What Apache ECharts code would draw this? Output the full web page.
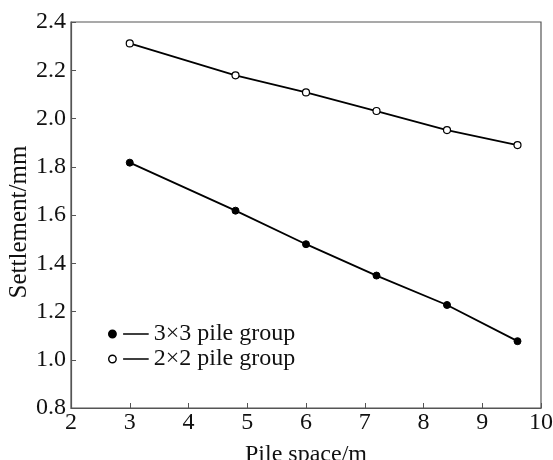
<!DOCTYPE html>
<html>
<head>
<meta charset="utf-8">
<script src="https://cdn.jsdelivr.net/npm/echarts@6/dist/echarts.min.js"></script>
<style>html,body{margin:0;padding:0;background:#fff;}#c{width:553px;height:460px;}</style>
</head>
<body>
<div id="c"></div>
<script>
const pileSpace = [3, 4.8, 6, 7.2, 8.4, 9.6];
const group3x3 = [1.817, 1.618, 1.479, 1.349, 1.227, 1.077];
const group2x2 = [2.311, 2.179, 2.108, 2.031, 1.952, 1.890];
const seriesNames = ['3\u00d73 pile group', '2\u00d72 pile group'];
const xTicks = [2, 3, 4, 5, 6, 7, 8, 9, 10];
const yTicks = [0.8, 1.0, 1.2, 1.4, 1.6, 1.8, 2.0, 2.2, 2.4];

const font = '"Liberation Serif", "Times New Roman", serif';
const chart = echarts.init(document.getElementById('c'));
const legendIcon = 'path://M0.5,4A3.5,3.5,0,1,1,7.5,4A3.5,3.5,0,1,1,0.5,4Z M14,4L38,4';
chart.setOption({
  animation: false,
  backgroundColor: '#fff',
  grid: { left: 71, right: 12, top: 22, bottom: 52, containLabel: false, outerBoundsMode: 'none',
          show: true, borderColor: '#555', borderWidth: 1.2, backgroundColor: 'transparent' },
  legend: {
    left: 103, top: 317, orient: 'vertical', itemGap: 1,
    itemWidth: 40, itemHeight: 8,
    textStyle: { fontFamily: font, fontSize: 24, color: '#111', padding: [0,0,0,0] },
    data: [
      { name: seriesNames[0], icon: legendIcon, itemStyle: { color: '#000', borderColor: '#000', borderWidth: 1.4 } },
      { name: seriesNames[1], icon: legendIcon, itemStyle: { color: '#fff', borderColor: '#000', borderWidth: 1.4 } }
    ]
  },
  xAxis: {
    type: 'value', min: xTicks[0], max: xTicks[xTicks.length-1], interval: 1,
    name: 'Pile space/m', nameLocation: 'middle', nameGap: 35, nameMoveOverlap: false,
    nameTextStyle: { fontFamily: font, fontSize: 24, color: '#111' },
    axisLine: { lineStyle: { color: '#555', width: 1.2 } },
    axisTick: { inside: true, length: 5, lineStyle: { color: '#555' } },
    axisLabel: { fontFamily: font, fontSize: 24, color: '#111', margin: 3 },
    splitLine: { show: false }
  },
  yAxis: {
    type: 'value', min: yTicks[0], max: yTicks[yTicks.length-1], interval: 0.2,
    name: 'Settlement/mm', nameLocation: 'middle', nameGap: 39, nameMoveOverlap: false,
    nameTextStyle: { fontFamily: font, fontSize: 25, color: '#111', padding: [0, 14, 0, 0] },
    axisLine: { lineStyle: { color: '#555', width: 1.2 } },
    axisTick: { inside: true, length: 5, lineStyle: { color: '#555' } },
    axisLabel: { fontFamily: font, fontSize: 24, color: '#111', margin: 5, formatter: v => v.toFixed(1) },
    splitLine: { show: false }
  },
  series: [
    {
      name: seriesNames[0], type: 'line', data: pileSpace.map((x,i)=>[x, group3x3[i]]),
      symbol: 'circle', symbolSize: 7,
      lineStyle: { color: '#000', width: 1.8 },
      itemStyle: { color: '#000', borderColor: '#000', borderWidth: 1 }
    },
    {
      name: seriesNames[1], type: 'line', data: pileSpace.map((x,i)=>[x, group2x2[i]]),
      symbol: 'circle', symbolSize: 7,
      lineStyle: { color: '#000', width: 1.8 },
      itemStyle: { color: '#fff', borderColor: '#000', borderWidth: 1.2 }
    }
  ]
});
</script>
</body>
</html>
